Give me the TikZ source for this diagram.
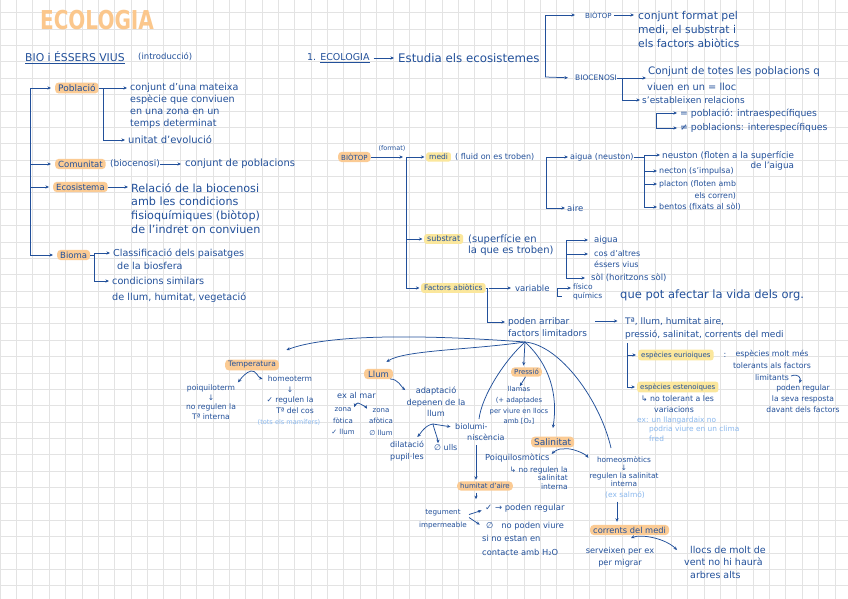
\documentclass[tikz,border=0pt]{standalone}
\usepackage{fontspec}
\setmainfont{DejaVu Sans}
\usetikzlibrary{arrows.meta,calc}
\definecolor{ink}{HTML}{22509A}
\definecolor{lblue}{HTML}{8AB8EE}
\definecolor{hor}{HTML}{FBCB94}
\definecolor{hye}{HTML}{FBE79C}
\definecolor{ttl}{HTML}{FBC78C}
\definecolor{gridc}{HTML}{E3E3E3}
\newcommand\myfs[2]{\fontsize{#1}{#2}\selectfont}
\tikzset{
  tx/.style={text=ink,inner sep=0pt,align=left},
  hlo/.style={fill=hor,rounded corners=3.5pt,inner xsep=3pt,inner ysep=1.8pt,text=ink,anchor=west},
  hly/.style={fill=hye,rounded corners=2.5pt,inner xsep=3pt,inner ysep=1.8pt,text=ink,anchor=west},
  ln/.style={draw=ink,line width=0.75pt},
  arr/.style={ln,-{Stealth[length=3.6pt,width=3.2pt]},shorten >=1.5pt},
  arrb/.style={ln,{Stealth[length=3.6pt,width=3.2pt]}-{Stealth[length=3.6pt,width=3.2pt]}},
}
\begin{document}
\begin{tikzpicture}[x=1pt,y=-1pt]
\useasboundingbox (0,0) rectangle (848,599);
\fill[white] (0,0) rectangle (848,599);
\foreach \i in {0,...,52} \draw[gridc,line width=0.6pt] (\i*16.37,0) -- (\i*16.37,599);
\foreach \j in {0,...,37} \draw[gridc,line width=0.6pt] (0,\j*16.37-3.7) -- (848,\j*16.37-3.7);

% ---------- title and left column
\node[text=ttl,font=\myfs{26}{28}\bfseries,xscale=0.77,inner sep=0pt] (title) at (97,20) {ECOLOGIA};
\node[tx,anchor=west,font=\myfs{10.8}{12}] (h1) at (25,58) {\underline{BIO i ÉSSERS VIUS}};
\node[tx,anchor=west,font=\myfs{8.5}{12}] (h1b) at (138,57) {(introducció)};

\node[hlo,font=\myfs{9}{10}] (pobl) at (55,88) {Població};
\node[tx,anchor=north west,font=\myfs{9.6}{12}] (poblt) at (130,83.5) {conjunt d'una mateixa\\espècie que conviuen\\en una zona en un\\temps determinat};
\node[tx,anchor=west,font=\myfs{10}{12}] (unit) at (128,140) {unitat d'evolució};
\node[hlo,font=\myfs{8.5}{10}] (com) at (55,164) {Comunitat};
\node[tx,anchor=west,font=\myfs{9}{12}] (bioc1) at (110,164) {(biocenosi)};
\node[tx,anchor=west,font=\myfs{10}{12}] (conj) at (185,164) {conjunt de poblacions};
\node[hlo,font=\myfs{8.5}{10}] (eco) at (53,187) {Ecosistema};
\node[tx,anchor=north west,font=\myfs{11.2}{13.7}] (ecot) at (131,183) {Relació de la biocenosi\\amb les condicions\\fisioquímiques (biòtop)\\de l'indret on conviuen};
\node[hlo,font=\myfs{8.5}{10}] (bioma) at (57,255) {Bioma};
\node[tx,anchor=north west,font=\myfs{9.6}{13}] (biomt1) at (113,248.5) {Classificació dels paisatges\\\hspace*{4pt}de la biosfera};
\node[tx,anchor=north west,font=\myfs{9.7}{16}] (biomt2) at (112,276.5) {condicions similars\\de llum, humitat, vegetació};

\coordinate (spL) at (30,255);
\draw[arr,shorten >=4pt] (spL) |- (pobl.west);
\draw[arr,shorten >=4pt] (spL) |- (com.west);
\draw[arr,shorten >=4pt] (spL) |- (eco.west);
\draw[arr,shorten >=4pt] (spL) -- (bioma.west);
\draw[arr,shorten >=3pt] (pobl.east) -- (pobl.east -| poblt.west);
\draw[arr,shorten >=3pt] (pobl.east) -- ++(5,0) |- (unit.west);
\draw[arr,shorten >=4pt] (bioc1.east) -- (conj.west);
\draw[arr,shorten >=3pt] (eco.east) -- (eco.east -| ecot.west);
\draw[arr,shorten >=3pt] (bioma.east) -- ++(4,0) |- ($(biomt1.north west)+(0,4.5)$);
\draw[arr,shorten >=3pt] (bioma.east) -- ++(4,0) |- ($(biomt2.north west)+(0,4.5)$);

% ---------- top middle
\node[tx,anchor=west,font=\myfs{9.5}{12}] (e1) at (307,58) {1. \underline{ECOLOGIA}};
\node[tx,anchor=west,font=\myfs{11.8}{12}] (est) at (398,58) {Estudia els ecosistemes};
\draw[arr,shorten >=4pt,shorten <=4pt] (e1.east) -- (est.west);
\node[tx,anchor=west,font=\myfs{7}{9}] (biot1) at (585,15) {BIÒTOP};
\node[tx,anchor=west,font=\myfs{7.5}{9}] (bioc2) at (575,78) {BIOCENOSI};
\coordinate (spE) at (545,77);
\draw[arr,shorten >=10pt] (spE) |- (biot1.west);
\draw[arr,shorten >=7pt] (spE) -- (bioc2.west);
\node[tx,anchor=north west,font=\myfs{10.8}{14}] (biot1t) at (638,11) {conjunt format pel\\medi, el substrat i\\els factors abiòtics};
\draw[arr,shorten >=4pt,shorten <=2pt] (biot1.east) -- (biot1.east -| biot1t.west);
\node[tx,anchor=west,font=\myfs{10.3}{12}] (bioc2t1) at (648,72) {Conjunt de totes les poblacions q};
\node[tx,anchor=west,font=\myfs{9.8}{12}] (bioc2t2) at (647,87) {viuen en un = lloc};
\node[tx,anchor=west,font=\myfs{9}{12}] (bioc2t3) at (642,100) {s'estableixen relacions};
\draw[arr,shorten >=2pt] (bioc2.east) -- (bioc2.east -| bioc2t1.west);
\draw[arr,shorten >=2pt] (bioc2.east) -- ++(5,0) |- (bioc2t3.west);
\coordinate (sb2) at (656,113);
\node[tx,anchor=west,font=\myfs{9.3}{12}] (intra) at (680,114) {= població: intraespecífiques};
\node[tx,anchor=west,font=\myfs{9.3}{12}] (inter) at (680,128) {≠ poblacions: interespecífiques};
\draw[arr,shorten >=3pt] (sb2) -- (sb2 -| intra.west);
\draw[arr,shorten >=3pt] (sb2) |- (inter.west);

% ---------- biotop branch
\node[hlo,font=\myfs{7}{9}] (biot2) at (338,157) {BIÒTOP};
\node[tx,font=\myfs{6.5}{8}] (fmt) at (392,148) {(format)};
\coordinate (spB) at (406,157);
\draw[arr,shorten >=3pt] (biot2.east) -- (spB);
\node[hly,font=\myfs{7.5}{9}] (medi) at (426,157) {medi};
\node[tx,anchor=west,font=\myfs{8}{9}] (medit) at (455,157) {( fluid on es troben)};
\node[hly,font=\myfs{8}{9}] (subs) at (424,239) {substrat};
\node[tx,anchor=north west,font=\myfs{10}{11}] (subst) at (468,234.5) {(superfície en\\la que es troben)};
\node[hly,font=\myfs{7.5}{9}] (fab) at (421,288) {Factors abiòtics};
\draw[arr] (spB) -- (medi.west);
\draw[arr] (spB) |- (subs.west);
\draw[arr] (spB) |- (fab.west);

\coordinate (spM) at (546,208);
\node[tx,anchor=west,font=\myfs{8}{10}] (aig) at (570,157) {aigua (neuston)};
\node[tx,anchor=west,font=\myfs{8.5}{10}] (aire) at (567,208) {aire};
\draw[arr,shorten >=2pt] (spM) |- (aig.west);
\draw[arr,shorten >=2pt] (spM) -- (aire.west);

\coordinate (spA) at (644,207);
\node[tx,anchor=north west,align=right,font=\myfs{8.8}{10}] (neu) at (662,151) {neuston (floten a la superfície\\de l'aigua};
\node[tx,anchor=west,font=\myfs{8}{10}] (nec) at (659,171) {necton (s'impulsa)};
\node[tx,anchor=north west,align=right,font=\myfs{7.8}{12}] (pla) at (659,180.5) {placton (floten amb\\els corren)};
\node[tx,anchor=west,font=\myfs{8}{10}] (ben) at (659,207) {bentos (fixats al sòl)};
\draw[ln] (aig.east) -- (aig.east -| spA);
\draw[arr,shorten >=2pt] (spA) |- ($(neu.north west)+(0,4)$);
\draw[arr,shorten >=2pt] (spA) |- (nec.west);
\draw[arr,shorten >=2pt] (spA) |- ($(pla.north west)+(0,3.5)$);
\draw[arr,shorten >=2pt] (spA) -- (ben.west);

\coordinate (spS) at (566,278);
\node[tx,anchor=west,font=\myfs{8.5}{10}] (aig2) at (594,240) {aigua};
\node[tx,anchor=north west,font=\myfs{8}{11}] (cos) at (594,250) {cos d'altres\\éssers vius};
\node[tx,anchor=west,font=\myfs{8.5}{10}] (sol) at (591,278) {sòl (horitzons sòl)};
\draw[arr,shorten >=6pt] (spS) |- (aig2.west);
\draw[arr,shorten >=6pt] (spS) |- ($(cos.north west)+(0,4)$);
\draw[arr,shorten >=6pt] (spS) -- (sol.west);

\node[tx,anchor=west,font=\myfs{8.5}{10}] (var) at (515,288) {variable};
\draw[arr,shorten >=4pt,shorten <=3pt] (fab.east) -- (var.west);
\node[tx,anchor=north west,font=\myfs{7.5}{9}] (fq) at (573,283.5) {físico\\químics};
\coordinate (vq) at (557,288);
\draw[arr,shorten >=2pt] (vq) -- (vq -| fq.west);
\draw[ln] (vq) -- ++(0,8) -- ++(5,0);
\node[tx,anchor=west,font=\myfs{11.5}{12}] (vida) at (620,295) {que pot afectar la vida dels org.};

\node[tx,anchor=north west,font=\myfs{9}{12}] (poden) at (508,317.5) {poden arribar\\factors limitadors};
\draw[arr,shorten >=3pt] (fab.east) -- ++(2,0) |- ($(poden.north west)+(0,4.5)$);
\node[tx,anchor=north west,font=\myfs{9}{13}] (tal) at (625,317.5) {Tª, llum, humitat aire,\\pressió, salinitat, corrents del medi};
\draw[arr] ($(poden.north east)+(8,3.5)$) -- ($(tal.north west)+(-6,3.5)$);

\coordinate (spF) at (627,387);
\coordinate (spF2) at (627,343);
\node[hly,font=\myfs{7}{9}] (eur) at (638,355) {espècies eurioiques};
\node[hly,font=\myfs{7}{9}] (est2) at (637,387) {espècies estenoiques};
\draw[ln] (spF2) -- (spF);
\draw[arr,shorten >=2pt] (spF) |- (eur.west);
\draw[arr,shorten >=2pt] (spF) -- (est2.west);
\node[tx,font=\myfs{8}{10}] (colon) at (725,355) {:};
\node[tx,anchor=north,align=center,font=\myfs{7.8}{12}] (eurt) at (772,350.5) {espècies molt més\\tolerants als factors\\limitants};
\node[tx,anchor=north,align=center,font=\myfs{7.6}{11}] (eurt2) at (803,384.5) {poden regular\\la seva resposta\\davant dels factors};
\coordinate (cu1) at (791,376);
\draw[arr] (cu1) .. controls +(8,-3) and +(2,-6) .. ($(eurt2.north)+(-4,0)$);
\node[tx,anchor=north west,font=\myfs{7.8}{11}] (estt) at (641,395) {↳ no tolerant a les\\\hspace*{13pt}variacions};
\node[tx,anchor=north west,text=lblue,font=\myfs{7.4}{9.5}] (exl) at (637,416.5) {ex: un llangardaix no\\\hspace*{12pt}podria viure en un clima\\\hspace*{12pt}fred};

% ---------- limiting factors
\coordinate (hub) at (525,342);
\node[hlo,font=\myfs{7.5}{9}] (temp) at (225,365) {Temperatura};
\node[hlo,font=\myfs{8.5}{9},inner xsep=4pt] (llum) at (364,374) {Llum};
\node[hlo,font=\myfs{7}{9}] (pres) at (511,372) {Pressió};
\node[hlo,font=\myfs{9}{10}] (sal) at (531,442) {Salinitat};
\node[tx,anchor=north west,align=left,font=\myfs{8}{11}] (biolum) at (455,423) {biolumi-\\\hspace*{12pt}niscència};
\node[tx,anchor=north,align=center,font=\myfs{7.4}{8.2}] (homeo) at (624,456) {homeosmòtics\\↓\\regulen la salinitat\\interna};
\draw[arr] (hub) .. controls (470,338) and (340,330) .. ($(temp.north east)+(6,-9)$);
\draw[arr] (hub) .. controls (470,350) and (405,350) .. ($(llum.north east)+(-8,-6)$);
\draw[arr] (hub) -- ($(pres.north)+(-3,0)$);
\draw[ln] (hub) .. controls (505,360) and (482,395) .. ($(biolum.north west)+(24,-4)$);
\draw[arr] (hub) .. controls (550,365) and (558,395) .. ($(sal.north)+(0,-7)$);
\draw[ln] (hub) .. controls (560,345) and (600,400) .. ($(homeo.north)+(-13,-8)$);

% temperature
\coordinate (tb) at (251,371);
\node[tx,anchor=north,align=center,font=\myfs{7.6}{9.7}] (poiq) at (211,384.5) {poiquiloterm\\↓\\no regulen la\\Tª interna};
\node[tx,anchor=north,align=center,font=\myfs{7.6}{10.7}] (homeot) at (290,375.5) {homeoterm\\↓\\✓ regulen la\\\hspace*{10pt}Tª del cos};
\node[tx,text=lblue,font=\myfs{6.6}{8}] (tots) at (289,422) {(tots els mamífers)};
\draw[arr] (tb) .. controls +(-5,1) and +(4,-5) .. ($(poiq.north)+(26,-1)$);
\draw[arr] (tb) .. controls +(5,-1) and +(-6,-2) .. ($(homeot.north west)+(-2,4)$);

% light
\node[tx,anchor=west,font=\myfs{8.2}{10}] (exmar) at (337,395) {ex al mar};
\node[tx,anchor=north,align=center,font=\myfs{8.2}{11.5}] (adapt) at (436,387) {adaptació\\depenen de la\\llum};
\draw[arr] ($(llum.east)+(-3,5)$) .. controls +(8,0) and +(-5,-4) .. ($(adapt.north west)+(0,4)$);
\coordinate (xb) at (358,403);
\node[tx,anchor=north,align=center,font=\myfs{7}{11.5}] (zf) at (343,407.5) {zona\\fòtica\\✓ llum};
\node[tx,anchor=north,align=center,font=\myfs{7}{11.5}] (za) at (381,408) {zona\\afòtica\\∅ llum};
\draw[arr] (xb) .. controls +(-3,1) and +(1,-3) .. ($(zf.north east)+(-1,1)$);
\draw[arr] (xb) .. controls +(3,1) and +(-2,-3) .. ($(za.north west)+(-1,2)$);
\coordinate (ab) at (433,424);
\node[tx,anchor=north,align=center,font=\myfs{8}{12}] (dilat) at (407,441) {dilatació\\pupil·les};
\node[tx,anchor=west,font=\myfs{8}{10}] (ulls) at (434,448) {∅ ulls};
\draw[arr] (ab) .. controls +(-8,1) and +(4,-4) .. ($(dilat.north east)+(-8,-3)$);
\draw[arr] (ab) .. controls +(1,5) and +(0,-5) .. ($(ulls.north west)+(4,0)$);
\draw[arr] (ab) .. controls +(6,1) .. ($(biolum.north west)+(-3,4)$);

% pressure
\node[tx,anchor=north,align=center,font=\myfs{6.8}{10.7}] (llam) at (519,386.5) {llamas\\(+ adaptades\\per viure en llocs\\amb [O₂]};
\draw[arr] ($(pres.south)+(-1,0)$) -- ($(llam.north)+(0,1)$);

% humidity
\node[hlo,font=\myfs{7}{9}] (humit) at (457,486) {humitat d'aire};
\coordinate (bh) at ($(biolum.north west)+(21,22)$);
\draw[arr] (bh) -- (bh |- humit.north);
\coordinate (hd) at ($(humit.south west)+(19,2)$);
\draw[arr] (hd) -- ++(0,8);
\node[tx,anchor=north,align=center,font=\myfs{7.2}{13}] (teg) at (443,509.5) {tegument\\impermeable};
\node[tx,anchor=west,font=\myfs{8.5}{10}] (chk) at (485,508) {✓ → poden regular};
\node[tx,anchor=north west,align=left,font=\myfs{8.3}{13.5}] (nope) at (482,521.5) {\hspace*{4pt}∅\hspace*{8pt}no poden viure\\si no estan en\\contacte amb H₂O};
\draw[arr] ($(teg.north east)+(2,5)$) -- ($(chk.west)+(-2,2)$);
\draw[arr] ($(teg.north east)+(2,8)$) -- ($(nope.north west)+(-1,4)$);

% salinity
\coordinate (sb) at (563,449);
\node[tx,anchor=west,font=\myfs{8.3}{10}] (poiq2) at (485,458) {Poiquilosmòtics};
\node[tx,anchor=north east,align=right,font=\myfs{7.5}{8.3}] (poiq2t) at (568,466.5) {↳ no regulen la\\salinitat\\interna};
\node[tx,text=lblue,font=\myfs{7.5}{9}] (exsal) at (625,495) {(ex salmó)};
\draw[arr] (sb) .. controls +(-4,-1) and +(3,-3) .. ($(poiq2.east)+(1,-3)$);
\draw[arr] (sb) .. controls +(8,-2) and +(-4,-5) .. ($(homeo.north west)+(0,3)$);

% currents
\node[hlo,font=\myfs{8.3}{10}] (corr) at (590,530) {corrents del medi};
\coordinate (ea) at ($(exsal.south)+(-8,3)$);
\draw[arr,shorten >=3pt] (ea) -- (ea |- corr.north);
\node[tx,anchor=north,align=center,font=\myfs{8.2}{12}] (serv) at (620,547.5) {serveixen per ex\\per migrar};
\node[tx,anchor=north west,align=left,font=\myfs{9.5}{12.5}] (llocs) at (684,546) {\hspace*{6pt}llocs de molt de\\vent no hi haurà\\\hspace*{6pt}arbres alts};
\draw[arrb] ($(serv.north)+(11,-9.5)$) .. controls +(10,-4) and +(-12,-12) .. ($(llocs.north west)+(-7,4)$);
\end{tikzpicture}
\end{document}
